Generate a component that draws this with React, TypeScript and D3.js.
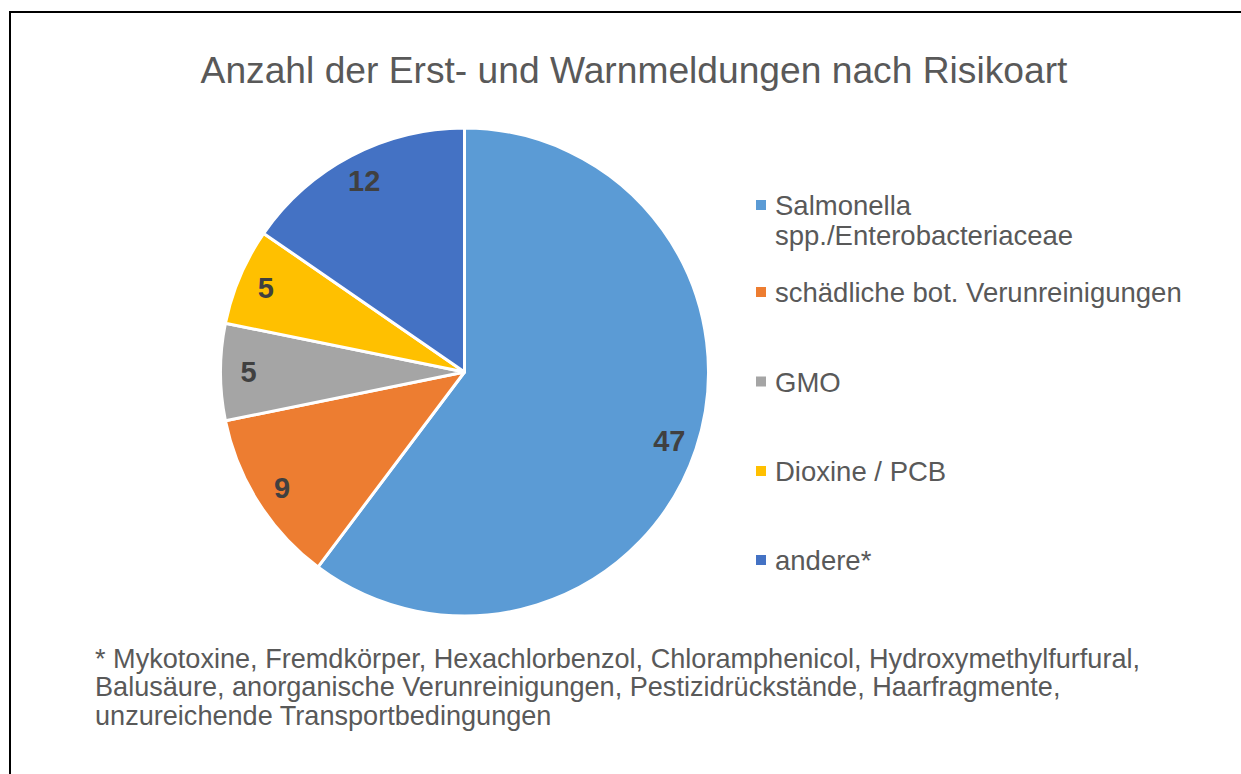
import React from "react";
import * as d3 from "d3";

const categories = [
  "Salmonella spp./Enterobacteriaceae",
  "schädliche bot. Verunreinigungen",
  "GMO",
  "Dioxine / PCB",
  "andere*",
];
const legendLines = [
  ["Salmonella", "spp./Enterobacteriaceae"],
  ["schädliche bot. Verunreinigungen"],
  ["GMO"],
  ["Dioxine / PCB"],
  ["andere*"],
];
const values = [47, 9, 5, 5, 12];
const colors = ["#5B9BD5", "#ED7D31", "#A5A5A5", "#FFC000", "#4472C4"];
const title = "Anzahl der Erst- und Warnmeldungen nach Risikoart";
const footnote = [
  "* Mykotoxine, Fremdkörper, Hexachlorbenzol, Chloramphenicol, Hydroxymethylfurfural,",
  "Balusäure, anorganische Verunreinigungen, Pestizidrückstände, Haarfragmente,",
  "unzureichende Transportbedingungen",
];

const W = 1241;
const H = 774;
const FONT = "'Liberation Sans', Arial, sans-serif";
const TEXT = "#595959";

export default function App() {
  const cx = 464.5;
  const cy = 372;
  const R = 244;
  const pie = d3
    .pie<number>()
    .sort(null)
    .value((d) => d)
    .startAngle(0)
    .endAngle(2 * Math.PI);
  const arcs = pie(values);
  const arc = d3.arc<d3.PieArcDatum<number>>().innerRadius(0).outerRadius(R);
  const labelArc = d3
    .arc<d3.PieArcDatum<number>>()
    .innerRadius(R * 0.885)
    .outerRadius(R * 0.885);

  const legendX = 756;
  const legendTextX = 775;
  const legendBase = [215, 302, 391.5, 481, 570];
  const lineH = 30;

  return (
    <svg
      width={W}
      height={H}
      style={{ position: "absolute", left: 0, top: 0, display: "block", background: "#fff" }}
    >
      <rect x={0} y={0} width={W} height={H} fill="#fff" />
      <rect x={10} y={12} width={1260} height={800} fill="none" stroke="#000" strokeWidth={2} />
      <text
        x={634}
        y={83.3}
        textAnchor="middle"
        fontFamily={FONT}
        fontSize={37.2}
        fill={TEXT}
      >
        {title}
      </text>
      <g transform={`translate(${cx},${cy})`}>
        {arcs.map((a, i) => (
          <path key={categories[i]} d={arc(a) || ""} fill={colors[i]} stroke="#fff" strokeWidth={3} strokeLinejoin="round" />
        ))}
        {arcs.map((a, i) => {
          const [x, y] = labelArc.centroid(a);
          return (
            <text
              key={"l" + i}
              x={x}
              y={y}
              dy="0.36em"
              textAnchor="middle"
              fontFamily={FONT}
              fontWeight="bold"
              fontSize={29}
              fill="#404040"
            >
              {values[i]}
            </text>
          );
        })}
      </g>
      {legendLines.map((lines, i) => (
        <g key={"lg" + i}>
          <rect x={legendX} y={legendBase[i] - 15} width={10} height={10} fill={colors[i]} />
          <text x={legendTextX} y={legendBase[i]} fontFamily={FONT} fontSize={27.5} fill={TEXT}>
            {lines.map((ln, j) => (
              <tspan key={j} x={legendTextX} y={legendBase[i] + j * lineH}>
                {ln}
              </tspan>
            ))}
          </text>
        </g>
      ))}
      <text fontFamily={FONT} fontSize={27.1} fill={TEXT}>
        {footnote.map((ln, j) => (
          <tspan key={j} x={95} y={667.5 + j * 28.5}>
            {ln}
          </tspan>
        ))}
      </text>
    </svg>
  );
}
